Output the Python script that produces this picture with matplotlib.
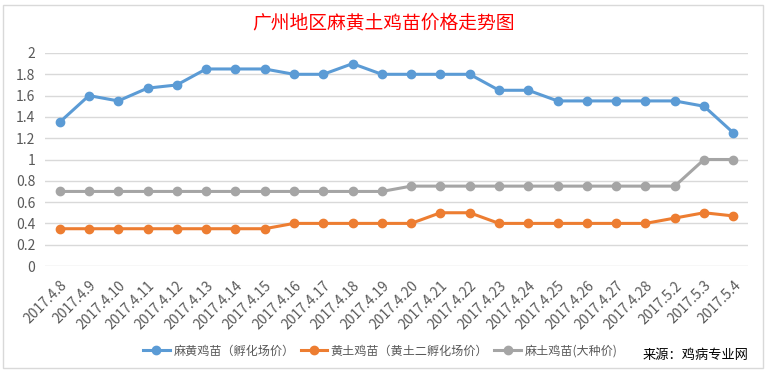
import matplotlib.pyplot as plt
from matplotlib.patches import Rectangle

plt.rcParams['font.family'] = ['Noto Sans CJK SC', 'DejaVu Sans']

dates = ['2017.4.8', '2017.4.9', '2017.4.10', '2017.4.11', '2017.4.12', '2017.4.13',
         '2017.4.14', '2017.4.15', '2017.4.16', '2017.4.17', '2017.4.18', '2017.4.19',
         '2017.4.20', '2017.4.21', '2017.4.22', '2017.4.23', '2017.4.24', '2017.4.25',
         '2017.4.26', '2017.4.27', '2017.4.28', '2017.5.2', '2017.5.3', '2017.5.4']
mahuang = [1.35, 1.6, 1.55, 1.67, 1.7, 1.85, 1.85, 1.85, 1.8, 1.8, 1.9, 1.8,
           1.8, 1.8, 1.8, 1.65, 1.65, 1.55, 1.55, 1.55, 1.55, 1.55, 1.5, 1.25]
huangtu = [0.35, 0.35, 0.35, 0.35, 0.35, 0.35, 0.35, 0.35, 0.4, 0.4, 0.4, 0.4,
           0.4, 0.5, 0.5, 0.4, 0.4, 0.4, 0.4, 0.4, 0.4, 0.45, 0.5, 0.47]
matu = [0.7, 0.7, 0.7, 0.7, 0.7, 0.7, 0.7, 0.7, 0.7, 0.7, 0.7, 0.7,
        0.75, 0.75, 0.75, 0.75, 0.75, 0.75, 0.75, 0.75, 0.75, 0.75, 1.0, 1.0]
series_names = ['麻黄鸡苗（孵化场价）', '黄土鸡苗（黄土二孵化场价）', '麻土鸡苗(大种价)']
colors = ['#5B9BD5', '#ED7D31', '#A5A5A5']

W, H = 766, 373
fig = plt.figure(figsize=(W / 100, H / 100), dpi=100)
fig.patches.append(Rectangle((3 / W, 5 / H), 760 / W, 363 / H, transform=fig.transFigure,
                             fill=False, edgecolor='#D9D9D9', linewidth=1))

ax = fig.add_axes([45 / W, 1 - 266 / H, 703 / W, 213 / H])
x = range(len(dates))
for vals, name, c in zip([mahuang, huangtu, matu], series_names, colors):
    ax.plot(x, vals, color=c, linewidth=2.2, marker='o', markersize=6, label=name)

ax.set_xlim(-0.5, len(dates) - 0.5)
ax.set_ylim(0, 2)
ax.set_yticks([0, 0.2, 0.4, 0.6, 0.8, 1, 1.2, 1.4, 1.6, 1.8, 2])
ax.set_yticklabels(['0', '0.2', '0.4', '0.6', '0.8', '1', '1.2', '1.4', '1.6', '1.8', '2'])
ax.set_xticks(list(x))
ax.set_xticklabels(dates, rotation=45, ha='right', rotation_mode='anchor')
ax.tick_params(axis='both', length=0, labelcolor='#595959')
ax.tick_params(axis='y', pad=7, labelsize=10)
ax.tick_params(axis='x', pad=9, labelsize=10)
ax.grid(axis='y', color='#D9D9D9', linewidth=1)
ax.set_axisbelow(True)
for s in ax.spines.values():
    s.set_visible(False)

fig.text(0.5, 1 - 23 / H, '广州地区麻黄土鸡苗价格走势图', color='#FF0000', fontsize=13.5,
         ha='center', va='center', fontweight='medium')

fig.legend(loc='center left', bbox_to_anchor=(143 / W, 1 - 351 / H), ncol=3, frameon=False,
           fontsize=8.7, handlelength=2.2, columnspacing=0.5, handletextpad=0.3,
           labelcolor='#595959', borderaxespad=0, borderpad=0)
fig.text(643 / W, 1 - 355 / H, '来源：鸡病专业网', fontsize=9.5, color='#000000',
         ha='left', va='center')

fig.savefig('out.png', dpi=100)
